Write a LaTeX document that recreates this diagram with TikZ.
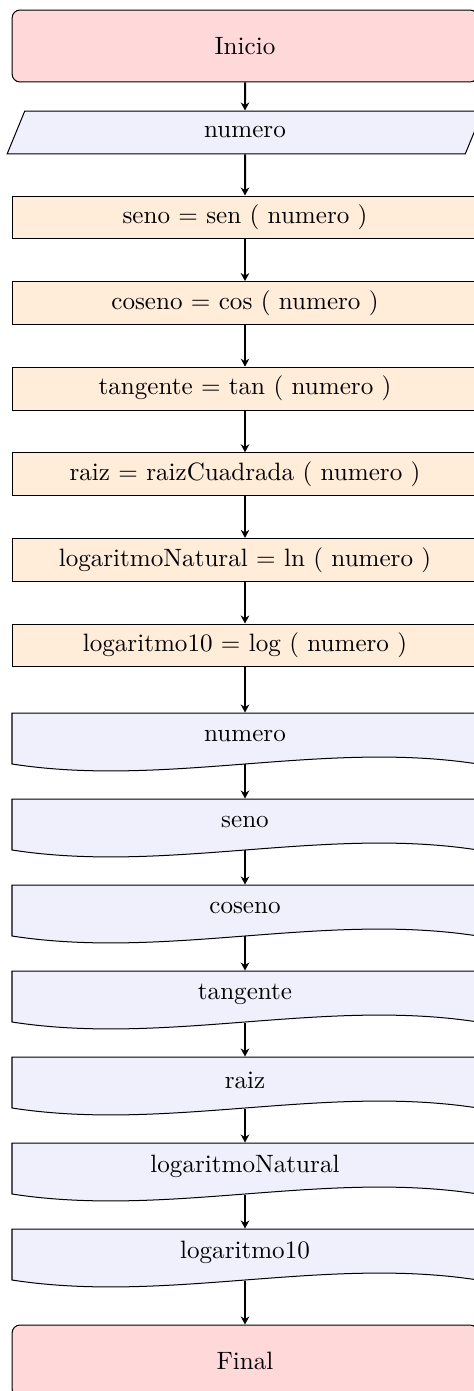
\documentclass[tikz,border=0pt]{standalone}
\usetikzlibrary{arrows.meta,shapes.geometric,calc}

\definecolor{rojoinicio}{RGB}{255,216,218}
\definecolor{azuldatos}{RGB}{240,240,252}
\definecolor{naranjaproc}{RGB}{255,236,217}
\newcommand{\anchoCaja}{6.524cm}

\tikzset{
  terminal/.style={draw, fill=rojoinicio, rounded corners=0.11cm,
    minimum width=\anchoCaja, minimum height=1.008cm},
  entrada/.style={draw, fill=azuldatos, trapezium, trapezium left angle=58,
    trapezium right angle=122, trapezium stretches body,
    minimum width=6.664cm, minimum height=0.602cm},
  proceso/.style={draw, fill=naranjaproc, minimum width=\anchoCaja, minimum height=0.602cm},
  salida/.style={minimum width=\anchoCaja, minimum height=0.644cm},
  flecha/.style={thick, -{Stealth[length=3.2pt,width=3.4pt]}}
}

\begin{document}
\begin{tikzpicture}[x=0.014cm,y=-0.014cm]
\useasboundingbox (0,0) rectangle (473,1391);
\node[terminal] (inicio) at (245,46) {Inicio};
\node[entrada] (leer) at (245,132.5) {numero};
\foreach \texto [count=\i] in {seno = sen ( numero ), coseno = cos ( numero ),
    tangente = tan ( numero ), raiz = raizCuadrada ( numero ),
    logaritmoNatural = ln ( numero ), logaritmo10 = log ( numero )}
  \node[proceso] (p\i) at (245,{217.5+85.6*(\i-1)}) {\texto};
% salidas con borde ondulado
\foreach \texto [count=\i] in {numero,seno,coseno,tangente,raiz,logaritmoNatural,logaritmo10}{
  \pgfmathsetmacro\arriba{713+86*(\i-1)}
  \filldraw[fill=azuldatos] (12,\arriba) -- (478,\arriba) -- (478,\arriba+51)
    .. controls (323,\arriba+27) and (167,\arriba+75) .. (12,\arriba+51) -- cycle;
  \node[salida] (d\i) at (245,\arriba+23) {\texto};
}
\node[terminal] (final) at (245,1361) {Final};

\draw[flecha] (inicio) -- (leer);
\draw[flecha] (leer) -- (p1);
\foreach \i [evaluate=\i as \j using int(\i+1)] in {1,...,5}
  \draw[flecha] (p\i) -- (p\j);
\draw[flecha] (p6) -- (d1);
\foreach \i [evaluate=\i as \j using int(\i+1)] in {1,...,6}
  \draw[flecha] ($(d\i.south)+(0,5)$) -- (d\j.north);
\draw[flecha] ($(d7.south)+(0,5)$) -- (final);
\end{tikzpicture}
\end{document}
